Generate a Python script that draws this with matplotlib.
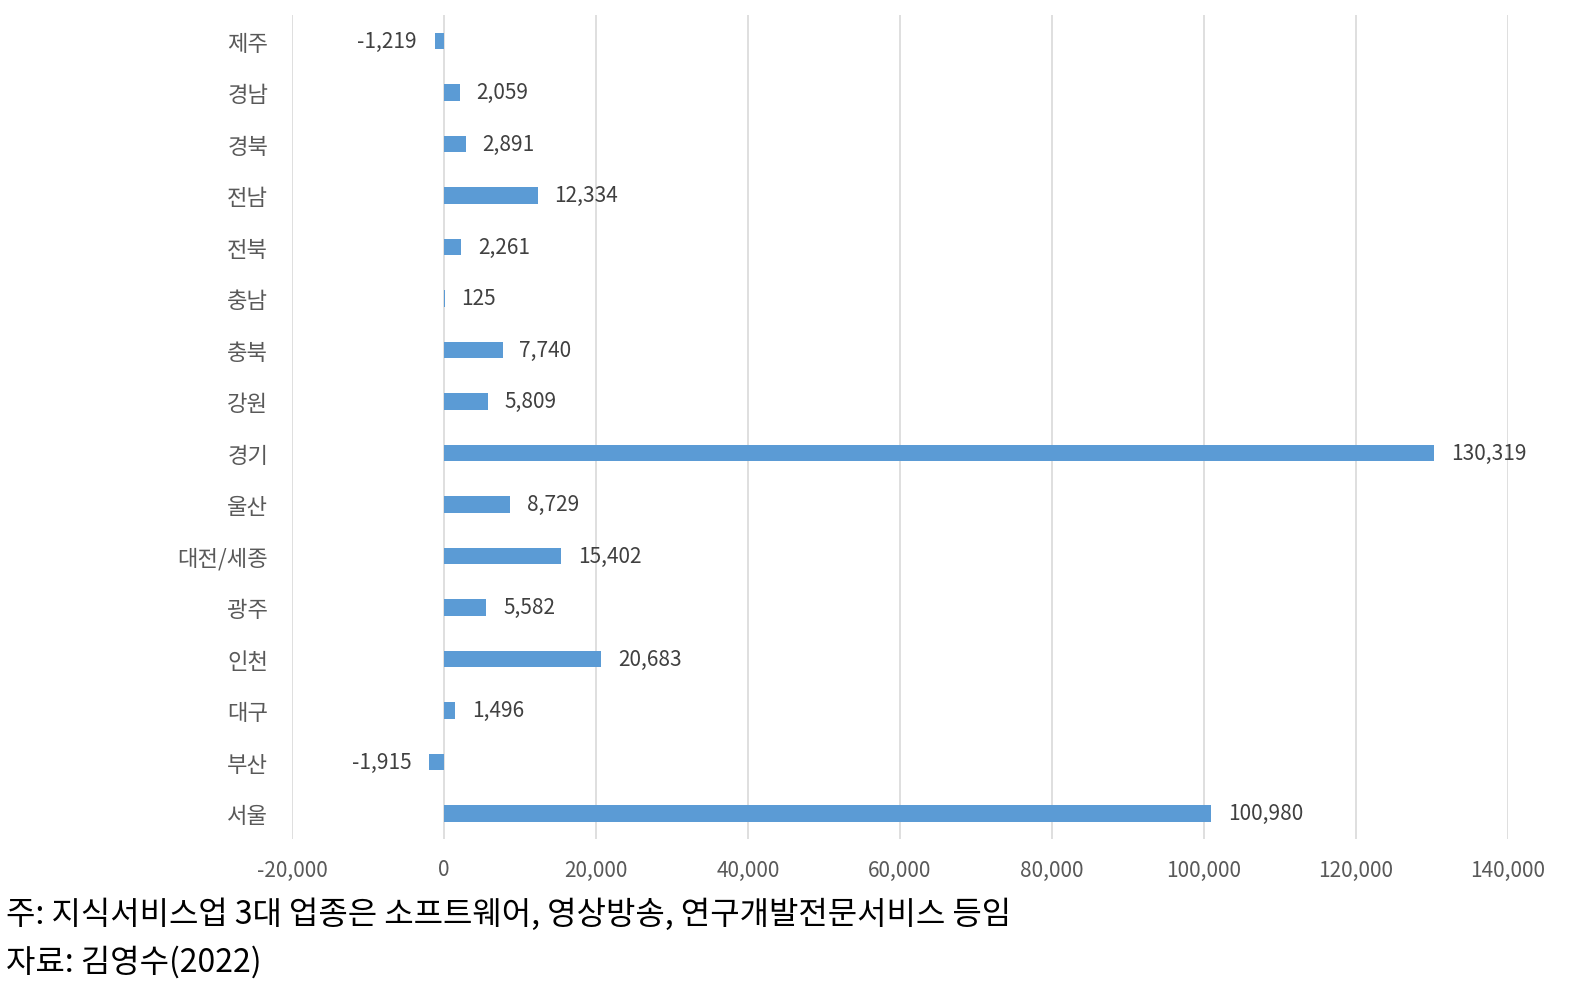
import matplotlib.pyplot as plt
from matplotlib.ticker import FuncFormatter

plt.rcParams['font.family'] = ['Noto Sans CJK KR', 'DejaVu Sans']

# Data (bottom to top as drawn)
regions = ['서울', '부산', '대구', '인천', '광주', '대전/세종', '울산', '경기',
           '강원', '충북', '충남', '전북', '전남', '경북', '경남', '제주']
values = [100980, -1915, 1496, 20683, 5582, 15402, 8729, 130319,
          5809, 7740, 125, 2261, 12334, 2891, 2059, -1219]

xticks = list(range(-20000, 140001, 20000))

fig = plt.figure(figsize=(15.84, 10.03), dpi=100)
ax = fig.add_axes([0.1843, 0.1625, 0.7677, 0.8215])

pos = range(len(regions))
ax.barh(pos, values, height=0.32, color='#5B9BD5', zorder=3)

for y, v in zip(pos, values):
    lab = f"{v:,}"
    if v >= 0:
        ax.annotate(lab, (v, y), xytext=(12, 0), textcoords='offset points',
                    ha='left', va='center', fontsize=15, color='#404040')
    else:
        ax.annotate(lab, (v, y), xytext=(-13, 0), textcoords='offset points',
                    ha='right', va='center', fontsize=15, color='#404040')

ax.set_xlim(-20000, 140000)
ax.set_ylim(-0.5, len(regions) - 0.5)
ax.set_xticks(xticks)
ax.xaxis.set_major_formatter(FuncFormatter(lambda x, p: f"{int(x):,}"))
ax.set_yticks(list(pos))
ax.set_yticklabels(regions)
ax.tick_params(axis='x', length=0, pad=14, labelsize=15, labelcolor='#595959')
ax.tick_params(axis='y', length=0, pad=17, labelsize=16, labelcolor='#595959')
ax.grid(axis='x', color='#D9D9D9', linewidth=1.2, zorder=0)
for s in ax.spines.values():
    s.set_visible(False)

fig.text(0.004, 0.088, "주: 지식서비스업 3대 업종은 소프트웨어, 영상방송, 연구개발전문서비스 등임",
         fontsize=23, color='black', va='center', ha='left')
fig.text(0.004, 0.041, "자료: 김영수(2022)", fontsize=23, color='black', va='center', ha='left')

fig.savefig('out.png', dpi=100)
